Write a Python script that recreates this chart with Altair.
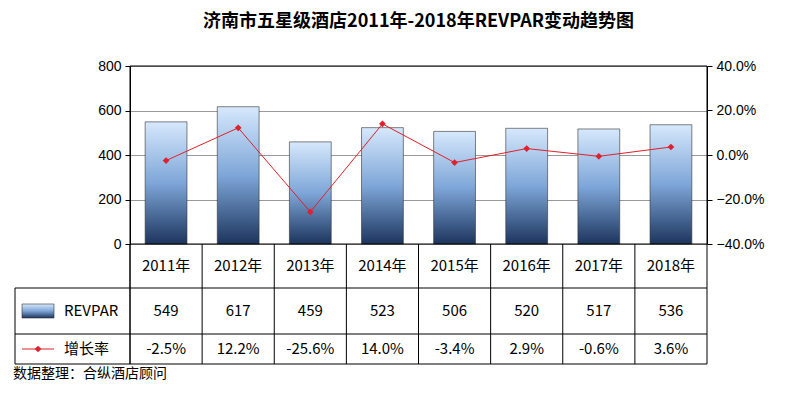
import altair as alt
import pandas as pd

years = ["2011年","2012年","2013年","2014年","2015年","2016年","2017年","2018年"]
revpar = [549, 617, 459, 523, 506, 520, 517, 536]
growth = [-2.5, 12.2, -25.6, 14.0, -3.4, 2.9, -0.6, 3.6]

df = pd.DataFrame({"year": years, "revpar": revpar, "growth": [g/100 for g in growth],
                   "rtxt": [str(v) for v in revpar], "gtxt": [f"{g:.1f}%" for g in growth]})
W, H = 577, 178
FONT = "Noto Sans CJK SC"
xenc = alt.X("year:N", sort=years, axis=None, scale=alt.Scale(paddingInner=0.42, paddingOuter=0.21))
xgrid = alt.X("year:N", sort=years, axis=None, bandPosition=0.5, scale=alt.Scale(paddingInner=0, paddingOuter=0))
xedge = alt.X("year:N", sort=years, axis=None, bandPosition=0, scale=alt.Scale(paddingInner=0, paddingOuter=0))
base = alt.Chart(df)

grad = alt.Gradient(gradient="linear", x1=0, x2=0, y1=0, y2=1,
                    stops=[alt.GradientStop(color="#d6e8fc", offset=0), alt.GradientStop(color="#7ea6d8", offset=0.5),
                           alt.GradientStop(color="#1c355e", offset=1)])
bars = base.mark_bar(color=grad, stroke="#333", strokeWidth=0.6).encode(
    x=xenc,
    y=alt.Y("revpar:Q", scale=alt.Scale(domain=[0, 800]),
            axis=alt.Axis(values=[0,200,400,600,800], title=None, grid=True, gridColor="#999",
                          labelFontSize=14, labelColor="#000", domainColor="#000", tickColor="#000", labelPadding=4)))
line = base.mark_line(color="#e0202a", strokeWidth=1,
                      point=alt.OverlayMarkDef(shape="diamond", size=45, color="#e0202a", filled=True)).encode(
    x=xenc,
    y=alt.Y("growth:Q", scale=alt.Scale(domain=[-0.4, 0.4]),
            axis=alt.Axis(orient="right", format=".1%", values=[-0.4,-0.2,0,0.2,0.4], title=None, grid=False,
                          labelFontSize=14, labelColor="#000", domainColor="#000", tickColor="#000", labelPadding=4)))
main = alt.layer(bars, line).resolve_scale(y="independent")

ty = lambda v: alt.value(v)
tbl = alt.layer(
    base.mark_rule(color="#000", strokeWidth=1).encode(x=xedge, y=ty(H), y2=ty(298)),
    base.mark_text(fontSize=15, font=FONT).encode(x=xgrid, y=ty(200), text="year:N"),
    base.mark_text(fontSize=15, font=FONT).encode(x=xgrid, y=ty(245), text="rtxt:N"),
    base.mark_text(fontSize=15, font=FONT).encode(x=xgrid, y=ty(283), text="gtxt:N"),
)
edge = pd.DataFrame({"a": [0]})
ec = alt.Chart(edge)
rules = alt.layer(
    ec.mark_rule(color="#000").encode(x=alt.value(W), y=ty(0), y2=ty(298)),
    ec.mark_rule(color="#000").encode(x=alt.value(-115), y=ty(222), y2=ty(298)),
    ec.mark_rule(color="#000").encode(x=alt.value(0), y=ty(0), y2=ty(298)),
    ec.mark_rule(color="#000").encode(x=alt.value(-115), x2=alt.value(W), y=ty(222)),
    ec.mark_rule(color="#000").encode(x=alt.value(-115), x2=alt.value(W), y=ty(268)),
    ec.mark_rule(color="#000").encode(x=alt.value(-115), x2=alt.value(W), y=ty(298)),
    ec.mark_rule(color="#000").encode(x=alt.value(0), x2=alt.value(W), y=ty(0)),
    ec.mark_rule(color="#000").encode(x=alt.value(0), x2=alt.value(W), y=ty(H)),
    ec.mark_rect(color=grad, stroke="#333", strokeWidth=0.6).encode(x=alt.value(-108), x2=alt.value(-76), y=ty(238), y2=ty(252)),
    ec.mark_text(text="REVPAR", fontSize=15, font=FONT, align="left").encode(x=alt.value(-66), y=ty(245)),
    ec.mark_rule(color="#e0202a").encode(x=alt.value(-108), x2=alt.value(-76), y=ty(283)),
    ec.mark_point(shape="diamond", size=45, color="#e0202a", filled=True, opacity=1).encode(x=alt.value(-92), y=ty(283)),
    ec.mark_text(text="增长率", fontSize=15, font=FONT, align="left").encode(x=alt.value(-66), y=ty(283)),
    ec.mark_text(text="数据整理：合纵酒店顾问", fontSize=14, font=FONT, align="left").encode(x=alt.value(-117), y=ty(308)),
)
chart = alt.layer(main, tbl, rules).resolve_scale(y="independent", x="independent").properties(
    width=W, height=H,
    title=alt.Title("济南市五星级酒店2011年-2018年REVPAR变动趋势图", fontSize=18, font=FONT, fontWeight="bold",
                    anchor="middle", offset=28),
).configure_view(stroke=None).configure(background="white")
chart.save("out.html", embed_options={"renderer": "svg", "actions": False})
